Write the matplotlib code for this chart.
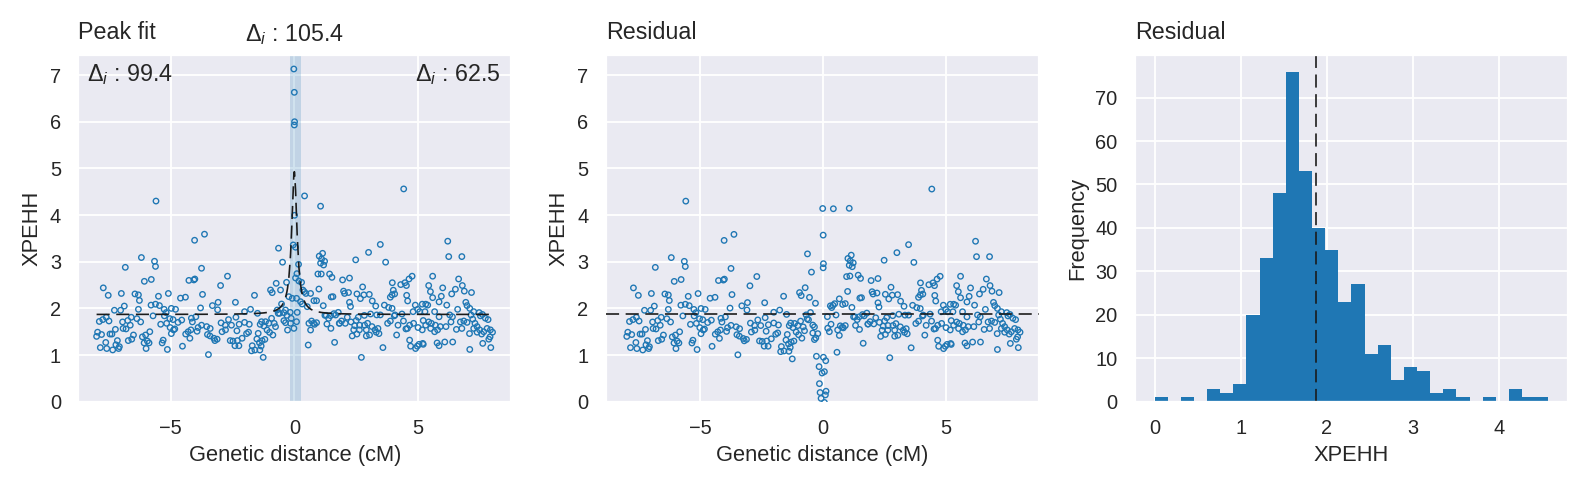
import numpy as np
import matplotlib
matplotlib.use("Agg")
import matplotlib.pyplot as plt
from matplotlib.ticker import MultipleLocator
import seaborn as sns

# ---- data ----
# left flank (about -8 .. -5 cM)
dist_a = [-6.18, -5.65, -5.61, -6.83, -6.06, -5.78, -7.72, -7.52, -6.99, -6.44, -6.30, -5.49, -5.09,
          -6.26, -6.87, -7.27, -7.02, -6.30, -5.79, -5.61, -5.45, -5.26, -5.18, -5.71, -7.60, -7.74,
          -7.49, -7.88, -6.59, -6.73, -6.94, -6.36, -6.21, -5.25, -5.03, -5.40, -5.16, -5.02, -6.63,
          -6.80, -6.92, -7.23, -7.95, -7.79, -7.99, -7.37, -7.45, -6.50, -6.57, -6.71, -6.14, -6.01,
          -5.84, -5.94, -6.07, -5.87, -7.15, -7.21, -7.62, -7.84, -7.58, -7.34, -7.10, -7.07, -5.99,
          -5.30, -5.34, -5.13, -5.59]
xpehh_a = [3.09, 3.01, 2.90, 2.88, 2.58, 2.62, 2.44, 2.28, 2.32, 2.31, 2.29, 2.26, 2.32,
           2.17, 2.05, 1.96, 1.96, 1.98, 2.07, 2.09, 2.06, 1.98, 1.91, 1.84, 1.81, 1.76,
           1.73, 1.72, 1.81, 1.74, 1.71, 1.78, 1.71, 1.84, 1.78, 1.66, 1.68, 1.59, 1.64,
           1.56, 1.57, 1.55, 1.49, 1.44, 1.40, 1.45, 1.45, 1.43, 1.34, 1.31, 1.39, 1.43,
           1.50, 1.30, 1.26, 1.26, 1.31, 1.22, 1.27, 1.16, 1.14, 1.11, 1.14, 1.18, 1.14,
           1.32, 1.26, 1.12, 4.30]

# -5 .. -1.6 cM
dist_b = [-4.03, -3.63, -3.75, -4.26, -4.06, -4.02, -2.70, -2.98, -3.71, -4.60, -4.40, -1.61, -3.31,
          -3.08, -2.38, -3.79, -3.10, -4.97, -4.80, -1.77, -2.01, -3.98, -4.16, -4.12, -4.55, -4.70,
          -4.90, -2.36, -2.66, -2.96, -2.79, -2.54, -2.23, -2.01, -1.82, -3.75, -3.89, -3.54, -3.40,
          -4.18, -4.29, -4.39, -3.93, -4.83, -4.88, -4.97, -3.51, -3.41, -3.25, -3.12, -3.21, -2.92,
          -2.78, -2.59, -2.48, -2.30, -2.40, -2.24, -2.11, -1.93, -1.85, -1.70, -1.73, -4.52, -3.47,
          -4.22, -2.32]
xpehh_b = [3.46, 3.59, 2.86, 2.60, 2.61, 2.63, 2.69, 2.49, 2.30, 2.22, 2.24, 2.28, 2.06,
           2.13, 2.13, 2.01, 1.97, 2.00, 1.98, 1.98, 1.93, 1.82, 1.79, 1.71, 1.75, 1.70,
           1.76, 1.81, 1.76, 1.69, 1.64, 1.64, 1.66, 1.70, 1.66, 1.64, 1.59, 1.61, 1.57,
           1.54, 1.50, 1.45, 1.51, 1.56, 1.54, 1.46, 1.44, 1.41, 1.36, 1.34, 1.31, 1.50,
           1.54, 1.31, 1.30, 1.31, 1.20, 1.20, 1.36, 1.46, 1.49, 1.20, 1.09, 1.19, 1.01,
           1.36, 1.52]

# around the peak (-1.6 .. 1.8 cM)
dist_c = [-0.02, 0.00, 0.01, 0.00,
          0.414, 1.061, 0.01, -0.044, 0.05, -0.638, 1.142, 1.007, 1.102, 1.223, -0.476, 0.171,
          1.061, 1.183, 0.953, 1.088, 1.425, 1.52, 0.104, 0.05, 0.185, 0.293, -0.314, -0.732,
          0.994, -0.961, -0.894, 0.347, 0.40, 0.468, 0.657, 0.792, 0.90, 1.493, 1.56, -0.557,
          -0.22, -0.085, 0.09, 0.252, 0.32, 0.522, 1.169, -0.516, -0.692, -0.597, -0.422, -0.166,
          0.117, 1.29, 1.466, 1.60, 1.668, 1.776, 1.237, -1.487, -0.355, -0.30, -0.651, -0.125,
          -0.422, -0.355, -0.274, -0.152, -0.017, 0.09, -0.92, -0.813, -0.759, -1.03, -1.164,
          -1.325, -1.38, -1.23, -1.10, -1.00, -0.867, 0.589, 0.697, 0.778, 0.657, 0.819, 0.90,
          1.317, 1.385, 1.479, 1.817, -1.46, -1.514, -1.41, -1.30, -1.19, -1.34, -1.393, -1.595,
          -1.258, 0.562, 1.628]
xpehh_c = [7.13, 6.63, 6.00, 5.93,
           4.41, 4.19, 3.995, 3.36, 3.31, 3.29, 3.18, 3.12, 3.06, 3.01, 2.99, 2.944,
           2.97, 2.93, 2.737, 2.737, 2.737, 2.665, 2.744, 2.651, 2.587, 2.558, 2.558, 2.537,
           2.415, 2.394, 2.337, 2.394, 2.358, 2.32, 2.32, 2.165, 2.165, 2.244, 2.251, 2.394,
           2.251, 2.215, 2.215, 2.144, 2.094, 2.037, 2.058, 2.094, 1.965, 1.894, 1.908, 1.915,
           1.915, 1.851, 1.844, 1.887, 1.858, 1.915, 1.851, 1.894, 1.965, 1.851, 1.894, 1.787,
           1.737, 1.694, 1.536, 1.68, 1.572, 1.715, 1.787, 1.68, 1.608, 1.68, 1.715,
           1.715, 1.658, 1.622, 1.536, 1.486, 1.429, 1.68, 1.729, 1.68, 1.536, 1.658, 1.694,
           1.665, 1.787, 1.572, 1.68, 1.465, 1.344, 1.265, 1.308, 1.336, 1.193, 1.108, 1.108,
           0.95, 1.215, 1.272]

# 1.8 .. 5.2 cM
dist_d = [3.475, 3.00, 2.48, 3.69, 1.95, 2.23, 1.99, 2.03, 2.19, 2.53, 2.76, 2.81, 3.03, 2.67, 3.15,
          2.23, 2.27, 3.29, 3.96, 4.30, 4.47, 4.53, 4.635, 4.76, 4.00, 4.055, 3.95, 3.88, 4.54, 4.58,
          3.64, 3.81, 3.95, 4.89, 5.17, 4.985, 5.07, 4.80, 4.35, 4.07, 2.83, 3.08, 3.33, 3.475, 2.585,
          2.14, 1.91, 1.83, 2.06, 2.29, 2.50, 2.64, 2.84, 2.96, 3.14, 3.26, 3.38, 3.31, 3.42, 2.91,
          3.04, 2.63, 2.44, 2.40, 2.53, 2.34, 2.91, 3.77, 3.88, 4.04, 4.19, 4.41, 4.51, 4.57, 4.66,
          4.82, 5.00, 5.17, 4.135, 4.66, 4.70, 4.90, 4.97, 5.04, 5.19, 3.58, 2.71, 4.42]
xpehh_d = [3.37, 3.20, 3.04, 2.99, 2.61, 2.65, 2.37, 2.32, 2.34, 2.31, 2.46, 2.29, 2.30, 2.21, 2.16,
           2.13, 2.04, 2.05, 2.55, 2.51, 2.55, 2.49, 2.63, 2.69, 2.39, 2.31, 2.29, 2.24, 2.28, 2.16,
           2.07, 2.02, 2.00, 2.07, 2.09, 1.98, 1.93, 1.93, 1.88, 1.86, 1.85, 1.88, 1.86, 1.86, 1.81,
           1.81, 1.73, 1.68, 1.68, 1.71, 1.74, 1.64, 1.64, 1.68, 1.61, 1.54, 1.57, 1.49, 1.46, 1.54,
           1.43, 1.54, 1.63, 1.54, 1.45, 1.41, 1.41, 1.68, 1.73, 1.84, 1.64, 1.73, 1.56, 1.57, 1.64,
           1.68, 1.59, 1.54, 1.43, 1.32, 1.19, 1.14, 1.19, 1.23, 1.25, 1.16, 0.95, 4.56]

# right flank (5.2 .. 8 cM)
dist_e = [6.20, 6.24, 6.77, 5.59, 5.43, 5.50, 5.996, 5.59, 5.94, 5.85, 5.31, 5.39, 6.51, 6.36, 6.64,
          6.79, 6.87, 7.16, 6.93, 6.98, 6.16, 7.09, 7.25, 7.47, 7.60, 7.72, 7.83, 7.52, 6.60, 6.28,
          5.67, 5.28, 5.85, 6.39, 5.43, 5.21, 5.31, 5.54, 5.70, 5.90, 6.13, 6.33, 6.55, 6.71, 6.85,
          6.98, 7.14, 7.21, 7.30, 7.385, 7.49, 7.655, 7.79, 7.925, 8.01, 7.91, 7.57, 7.385, 7.08, 7.25,
          5.51, 5.67, 5.79, 5.21, 5.77, 5.85, 6.08, 6.40, 7.09, 7.615, 7.94, 7.86, 6.77]
xpehh_e = [3.44, 3.11, 3.11, 2.69, 2.49, 2.36, 2.44, 2.23, 2.26, 2.14, 2.09, 2.07, 2.41, 2.31, 2.63,
           2.49, 2.37, 2.34, 2.13, 2.06, 2.07, 2.00, 1.93, 1.91, 1.87, 1.79, 1.76, 1.84, 1.98, 1.86,
           1.93, 1.93, 1.82, 1.82, 1.71, 1.74, 1.64, 1.68, 1.64, 1.61, 1.61, 1.71, 1.55, 1.71, 1.73,
           1.70, 1.86, 1.77, 1.68, 1.61, 1.54, 1.50, 1.57, 1.54, 1.49, 1.39, 1.45, 1.49, 1.46, 1.57,
           1.57, 1.50, 1.54, 1.23, 1.26, 1.20, 1.28, 1.28, 1.12, 1.25, 1.16, 1.34, 1.57]

# fitted peak model (baseline + Lorentzian-like peak)
fit_base = 1.87
fit_height = 3.06
fit_center = 0.0
fit_width = 0.13
ci_low, ci_high = -0.16, 0.25

delta_centre = 105.4
delta_left = 99.4
delta_right = 62.5

# histogram of the residuals (30 bins)
hist_edges = np.linspace(0.0, 4.575, 31)
hist_counts = [1, 0, 1, 0, 3, 2, 4, 20, 33, 48, 76, 53, 40, 35, 23,
               27, 11, 13, 5, 8, 7, 2, 3, 1, 0, 1, 0, 3, 1, 1]

gen_dist = np.array(dist_a + dist_b + dist_c + dist_d + dist_e)
xpehh = np.array(xpehh_a + xpehh_b + xpehh_c + xpehh_d + xpehh_e)


def peak_model(x):
    return fit_base + fit_height / (1 + ((x - fit_center) / fit_width) ** 2)


order = np.argsort(gen_dist)
x_sorted = gen_dist[order]
fit_line = peak_model(x_sorted)
residual = xpehh - (peak_model(gen_dist) - fit_base)

# ---- style ----
sns.set_theme(style="darkgrid")
plt.rcParams['font.family'] = ['Liberation Sans', 'DejaVu Sans']
plt.rcParams['mathtext.fontset'] = 'custom'
plt.rcParams['mathtext.rm'] = 'Liberation Sans'
plt.rcParams['mathtext.it'] = 'Liberation Sans:italic'

DPI = 131
fig = plt.figure(figsize=(1588 / DPI, 488 / DPI), dpi=DPI)
ax1 = fig.add_axes([0.0493, 0.1768, 0.2727, 0.7105])
ax2 = fig.add_axes([0.3814, 0.1768, 0.2727, 0.7105])
ax3 = fig.add_axes([0.7147, 0.1768, 0.2727, 0.7105])

blue = '#1f77b4'
dash = (8, 4)
title_kw = dict(loc='left', fontsize=12.8, pad=9)

# peak fit
ax1.axvspan(ci_low, ci_high, color=blue, alpha=0.2, lw=0)
ax1.scatter(gen_dist, xpehh, s=9, facecolors='none', edgecolors=blue, linewidths=0.75, zorder=3)
ax1.plot(x_sorted, fit_line, color='k', lw=0.9, dashes=dash, zorder=4)
ax1.set_xlim(-8.73, 8.77)
ax1.set_ylim(0, 7.43)
ax1.xaxis.set_major_locator(MultipleLocator(5))
ax1.set_xlabel('Genetic distance (cM)', fontsize=12)
ax1.set_ylabel('XPEHH', fontsize=12)
ax1.set_title('Peak fit', **title_kw)
ax1.text(0.02, 0.926, r'$\Delta_i$ : %.1f' % delta_left, transform=ax1.transAxes,
         ha='left', va='baseline', fontsize=12.8, color='0.15')
ax1.text(0.976, 0.926, r'$\Delta_i$ : %.1f' % delta_right, transform=ax1.transAxes,
         ha='right', va='baseline', fontsize=12.8, color='0.15')
ax1.text(fit_center, 1.041, r'$\Delta_i$ : %.1f' % delta_centre, transform=ax1.get_xaxis_transform(),
         ha='center', va='baseline', fontsize=12.8, color='0.15')

# residual scatter
ax2.scatter(gen_dist, residual, s=9, facecolors='none', edgecolors=blue, linewidths=0.75, zorder=3)
ax2.axhline(fit_base, color='k', lw=0.9, dashes=dash, zorder=4)
ax2.set_xlim(-8.85, 8.77)
ax2.set_ylim(0, 7.43)
ax2.xaxis.set_major_locator(MultipleLocator(5))
ax2.set_xlabel('Genetic distance (cM)', fontsize=12)
ax2.set_ylabel('XPEHH', fontsize=12)
ax2.set_title('Residual', **title_kw)

# residual histogram
ax3.hist(hist_edges[:-1], bins=hist_edges, weights=hist_counts, color=blue,
         edgecolor='none', linewidth=0)
ax3.axvline(fit_base, color='k', lw=0.9, dashes=dash)
ax3.set_xlabel('XPEHH', fontsize=12)
ax3.set_ylabel('Frequency', fontsize=12)
ax3.set_title('Residual', **title_kw)

for ax in (ax1, ax2, ax3):
    ax.tick_params(labelsize=11)

fig.savefig('out.png', dpi=DPI)
